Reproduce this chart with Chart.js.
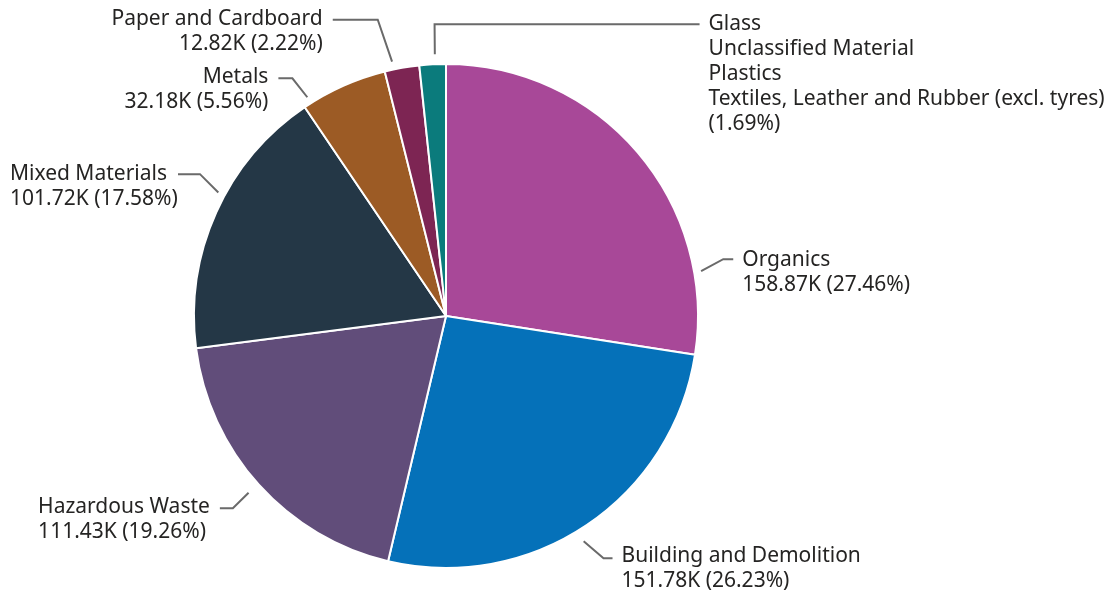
<!DOCTYPE html>
<html>
<head>
<meta charset="utf-8">
<title>Waste by material</title>
<script src="https://cdn.jsdelivr.net/npm/chart.js@4.4.1/dist/chart.umd.min.js"></script>
<style>
  html, body { margin: 0; padding: 0; background: #ffffff; }
  #wrap { width: 1119px; height: 594px; }
</style>
</head>
<body>
<div id="wrap"><canvas id="wastePie" width="1119" height="594"></canvas></div>
<script>
// tonnes by material, in thousands
const categories = [
  'Organics',
  'Building and Demolition',
  'Hazardous Waste',
  'Mixed Materials',
  'Metals',
  'Paper and Cardboard',
  'Glass\nUnclassified Material\nPlastics\nTextiles, Leather and Rubber (excl. tyres)'
];
const values = [158.87, 151.78, 111.43, 101.72, 32.18, 12.82, 9.78];
const colors = ['#A84898', '#0571B9', '#614D7A', '#243746', '#9C5B25', '#7D2553', '#0B7B7C'];
// grouped small slice only shows its share
const showValue = [true, true, true, true, true, true, false];

// leader line layout per slice (degrees / px)
const leaders = [
  { shift: 30.6, elbowShift: -1.6, startGap: 7,  elbowGap: 31, hLen: 10,  side: 'right', align: 'left', dy: 7 },
  { shift: 2.5,  elbowShift: -1.6, startGap: 12, elbowGap: 37, hLen: 9,   side: 'right', align: 'left', dy: 4 },
  { shift: 0.2,  elbowShift: -0.2, startGap: 13, elbowGap: 35, hLen: 13,  side: 'left',  align: 'left', dy: 5 },
  { shift: 4.2,  elbowShift: 1.5,  startGap: 7,  elbowGap: 32, hLen: 22,  side: 'left',  align: 'left', dy: 5.5 },
  { shift: -8.3, elbowShift: -0.5, startGap: 7,  elbowGap: 31, hLen: 14,  side: 'left',  align: 'right', dy: 5 },
  { shift: -1.9, elbowShift: -1,   startGap: 8,  elbowGap: 52, hLen: 45,  side: 'left',  align: 'right', dy: 5.5 },
  { shift: 0.6,  elbowShift: 0.2,  startGap: 10, elbowGap: 40, hLen: 265, side: 'right', align: 'left', dy: 6 }
];

const FONT = '21px "Noto Sans", "Open Sans", sans-serif';
const LINE_H = 25;
const total = values.reduce((a, b) => a + b, 0);

function labelLines(i) {
  const pct = '(' + (values[i] / total * 100).toFixed(2) + '%)';
  const lines = categories[i].split('\n');
  lines.push(showValue[i] ? values[i].toFixed(2) + 'K ' + pct : pct);
  return lines;
}

const leaderLabels = {
  id: 'leaderLabels',
  afterDatasetsDraw(chart) {
    const ctx = chart.ctx;
    const meta = chart.getDatasetMeta(0);
    ctx.save();
    ctx.font = FONT;
    meta.data.forEach((arc, i) => {
      const lay = leaders[i];
      const p = arc.getProps(['x', 'y', 'startAngle', 'endAngle', 'outerRadius'], true);
      const mid = (p.startAngle + p.endAngle) / 2;
      const a1 = mid + lay.shift * Math.PI / 180;
      const a2 = a1 + lay.elbowShift * Math.PI / 180;
      const r1 = p.outerRadius + lay.startGap;
      const r2 = p.outerRadius + lay.elbowGap;
      const sx = p.x + Math.cos(a1) * r1, sy = p.y + Math.sin(a1) * r1;
      const ex = p.x + Math.cos(a2) * r2, ey = p.y + Math.sin(a2) * r2;
      const dir = lay.side === 'right' ? 1 : -1;
      const tx = ex + dir * lay.hLen;

      ctx.strokeStyle = '#6a6a6a';
      ctx.lineWidth = 2;
      ctx.beginPath();
      ctx.moveTo(sx, sy);
      ctx.lineTo(ex, ey);
      ctx.lineTo(tx, ey);
      ctx.stroke();

      const lines = labelLines(i);
      ctx.fillStyle = '#252423';
      ctx.textBaseline = 'alphabetic';
      const base = ey + lay.dy;
      if (lay.side === 'right') {
        ctx.textAlign = 'left';
        lines.forEach((t, k) => ctx.fillText(t, tx + 9, base + k * LINE_H));
      } else {
        const right = tx - 10;
        if (lay.align === 'right') {
          ctx.textAlign = 'right';
          lines.forEach((t, k) => ctx.fillText(t, right, base + k * LINE_H));
        } else {
          const w = Math.max(...lines.map(t => ctx.measureText(t).width));
          const left = Math.max(10, right - w);
          ctx.textAlign = 'left';
          lines.forEach((t, k) => ctx.fillText(t, left, base + k * LINE_H));
        }
      }
    });
    ctx.restore();
  }
};

new Chart(document.getElementById('wastePie'), {
  type: 'pie',
  data: {
    labels: categories,
    datasets: [{
      data: values,
      backgroundColor: colors,
      borderColor: '#ffffff',
      borderWidth: 2
    }]
  },
  options: {
    responsive: false,
    animation: false,
    layout: { padding: { left: 193, right: 420, top: 63, bottom: 25 } },
    plugins: {
      legend: { display: false },
      tooltip: { enabled: false }
    }
  },
  plugins: [leaderLabels]
});
</script>
</body>
</html>
